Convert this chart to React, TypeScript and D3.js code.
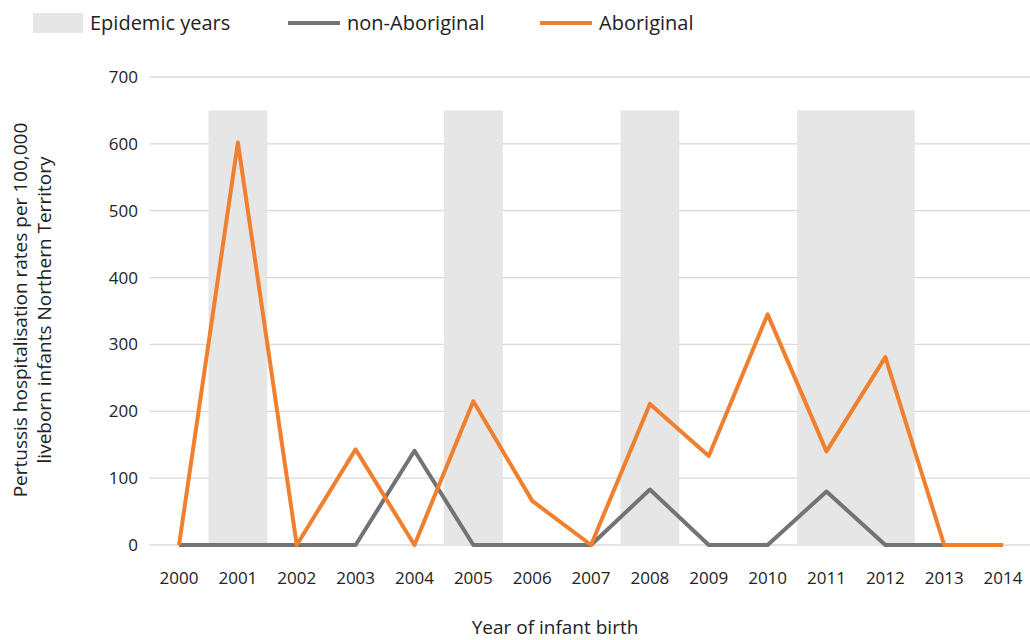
import * as d3 from 'd3';

const years = ['2000','2001','2002','2003','2004','2005','2006','2007','2008','2009','2010','2011','2012','2013','2014'];
const aboriginal = [0, 602, 0, 143, 0, 215, 66, 0, 211, 133, 345, 140, 281, 0, 0];
const nonAboriginal = [0, 0, 0, 0, 141, 0, 0, 0, 83, 0, 0, 80, 0, 0, 0];
const epidemicYears = ['2001', '2005', '2008', '2011', '2012'];
const yTicks = [0, 100, 200, 300, 400, 500, 600, 700];
const epidemicTop = 650;

const font = '"Open Sans", "Liberation Sans", sans-serif';

const App = () => {
  const W = 1030, H = 640;
  const x = d3.scaleBand<string>().domain(years).range([149.6, 1032.5]).paddingInner(0).paddingOuter(0);
  const y = d3.scaleLinear().domain([0, 700]).range([545, 77]);
  const cx = (yr: string) => (x(yr) as number) + x.bandwidth() / 2;
  const line = d3.line<number>().x((_, i) => cx(years[i])).y(d => y(d));

  return (
    <svg width={W} height={H} style={{ position: 'absolute', left: 0, top: 0, fontFamily: font }}>
      {yTicks.map(t => (
        <g key={t}>
          <line x1={149.6} x2={1030} y1={y(t)} y2={y(t)} stroke="#d9d9d9" strokeWidth={1.3} />
          <text x={138} y={y(t)} dy="0.35em" textAnchor="end" fontSize={17} fill="#222">{t}</text>
        </g>
      ))}
      {epidemicYears.map(yr => (
        <rect key={yr} x={x(yr)} y={y(epidemicTop)} width={x.bandwidth()} height={y(0) - y(epidemicTop)} fill="#e6e6e6" />
      ))}
      <path d={line(nonAboriginal) ?? ''} fill="none" stroke="#737373" strokeWidth={4} strokeLinejoin="round" />
      <path d={line(aboriginal) ?? ''} fill="none" stroke="#f07f2e" strokeWidth={4} strokeLinejoin="round" />
      {years.map(yr => (
        <text key={yr} x={cx(yr)} y={584} textAnchor="middle" fontSize={17} fill="#222">{yr}</text>
      ))}
      <text x={555} y={634} textAnchor="middle" fontSize={19} fill="#222">Year of infant birth</text>
      <g transform="translate(27,310) rotate(-90)">
        <text x={0} y={0} textAnchor="middle" fontSize={19} fill="#222">Pertussis hospitalisation rates per 100,000</text>
        <text x={0} y={24} textAnchor="middle" fontSize={19} fill="#222">liveborn infants Northern Territory</text>
      </g>
      <rect x={33} y={13} width={50} height={20} fill="#e6e6e6" />
      <text x={90} y={23} dy="0.35em" fontSize={20} fill="#222">Epidemic years</text>
      <line x1={288} x2={340} y1={23} y2={23} stroke="#737373" strokeWidth={4} />
      <text x={347} y={23} dy="0.35em" fontSize={20} fill="#222">non-Aboriginal</text>
      <line x1={540} x2={592} y1={23} y2={23} stroke="#f07f2e" strokeWidth={4} />
      <text x={599} y={23} dy="0.35em" fontSize={20} fill="#222">Aboriginal</text>
    </svg>
  );
};

export default App;
